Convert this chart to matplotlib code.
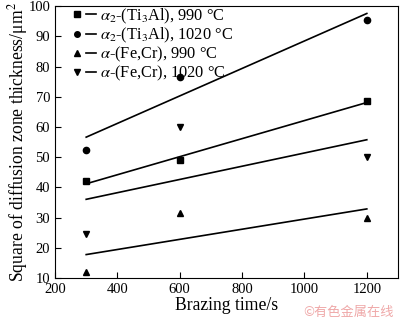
import matplotlib
matplotlib.use('Agg')
import matplotlib.pyplot as plt
import numpy as np
from matplotlib.lines import Line2D
from matplotlib.legend_handler import HandlerTuple

plt.rcParams['font.family'] = ['Liberation Serif', 'DejaVu Serif']
plt.rcParams['mathtext.fontset'] = 'stix'

# brazing time (s) and squared diffusion zone thickness (um^2)
times = [300, 600, 1200]
ti3al_990 = [42.0, 49.0, 68.5]
ti3al_1020 = [52.5, 76.5, 95.5]
fecr_990 = [12.0, 31.5, 30.0]
fecr_1020 = [24.5, 60.0, 50.0]

series = [
    (ti3al_990, 's', r'$\alpha_2$-(Ti$_3$Al), 990 °C'),
    (ti3al_1020, 'o', r'$\alpha_2$-(Ti$_3$Al), 1020 °C'),
    (fecr_990, '^', r'$\alpha$-(Fe,Cr), 990 °C'),
    (fecr_1020, 'v', r'$\alpha$-(Fe,Cr), 1020 °C'),
]

fig = plt.figure(figsize=(4.0, 3.23), dpi=100)
ax = fig.add_axes([0.1375, 0.139, 0.8575, 0.842])

x = np.array(times, dtype=float)
handles = []
labels = []
for vals, mk, lab in series:
    ax.plot(x, vals, linestyle='none', marker=mk, color='black', markersize=4.5)
    # least-squares trend line over the measured range
    k, b = np.polyfit(x, vals, 1)
    ax.plot(x[[0, -1]], k * x[[0, -1]] + b, color='black', linewidth=1.2)
    h_mk = Line2D([], [], linestyle='none', marker=mk, color='black', markersize=4)
    h_ln = Line2D([], [], color='black', linewidth=1.2)
    handles.append((h_mk, h_ln))
    labels.append(lab)

ax.set_xlim(200, 1300)
ax.set_ylim(10, 100)
ax.set_xticks([200, 400, 600, 800, 1000, 1200])
ax.set_yticks(range(10, 101, 10))
ax.tick_params(direction='in', length=4, width=0.8, labelsize=10.5, top=False, right=False)
for sp in ax.spines.values():
    sp.set_linewidth(0.8)

ax.set_xlabel('Brazing time/s', fontsize=12.7, labelpad=1)
ax.set_ylabel('Square of diffusion zone thickness/μm$^2$', fontsize=12.7, labelpad=-1)

ax.legend(handles, labels, handler_map={tuple: HandlerTuple(ndivide=None, pad=0.3)},
          loc='upper left', bbox_to_anchor=(0.02, 1.035), frameon=False, fontsize=11.8,
          handlelength=1.5, handletextpad=0.2, labelspacing=0.0, borderaxespad=0.2)

fig.text(0.985, 0.012, '©有色金属在线', color='#efa8a8', fontsize=9.5, ha='right', va='bottom',
         family=['Noto Sans CJK SC', 'DejaVu Sans'])

fig.savefig('out.png', dpi=100)
